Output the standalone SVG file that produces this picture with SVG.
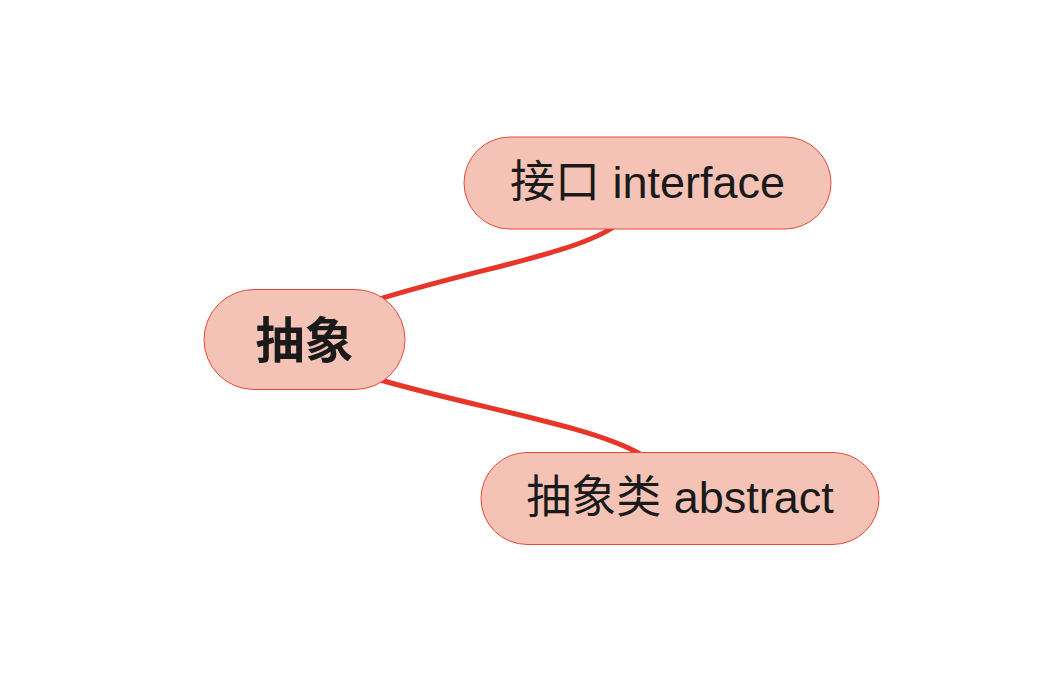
<svg xmlns="http://www.w3.org/2000/svg" width="1053" height="676" viewBox="0 0 1053 676">
<style>
.node{fill:#f5c3b6;stroke:#e8483c;stroke-width:1}
.lbl{font-family:"Liberation Sans","Noto Sans CJK SC",sans-serif;font-size:45px;fill:#1a1a1a;text-anchor:middle}
.root{font-weight:bold;font-size:49px}
.edge{fill:none;stroke:#e8352a;stroke-width:5;stroke-linecap:round}
</style>
<rect width="1053" height="676" fill="#ffffff"/>
<g id="connectors">
<path class="edge" d="M370,302 C470,270 570,255 612,228"/>
<path class="edge" d="M370,377 C470,407 590,425 640,454"/>
</g>
<g id="root">
<rect class="node" x="204" y="289.5" width="201" height="100" rx="50"/>
<text class="lbl root" x="304.5" y="358">抽象</text>
</g>
<g id="interface">
<rect class="node" x="464" y="137" width="367" height="92" rx="46"/>
<text class="lbl" x="647.5" y="198">接口 interface</text>
</g>
<g id="abstract">
<rect class="node" x="481" y="452.5" width="398" height="92" rx="46"/>
<text class="lbl" x="680" y="513">抽象类 abstract</text>
</g>
</svg>
